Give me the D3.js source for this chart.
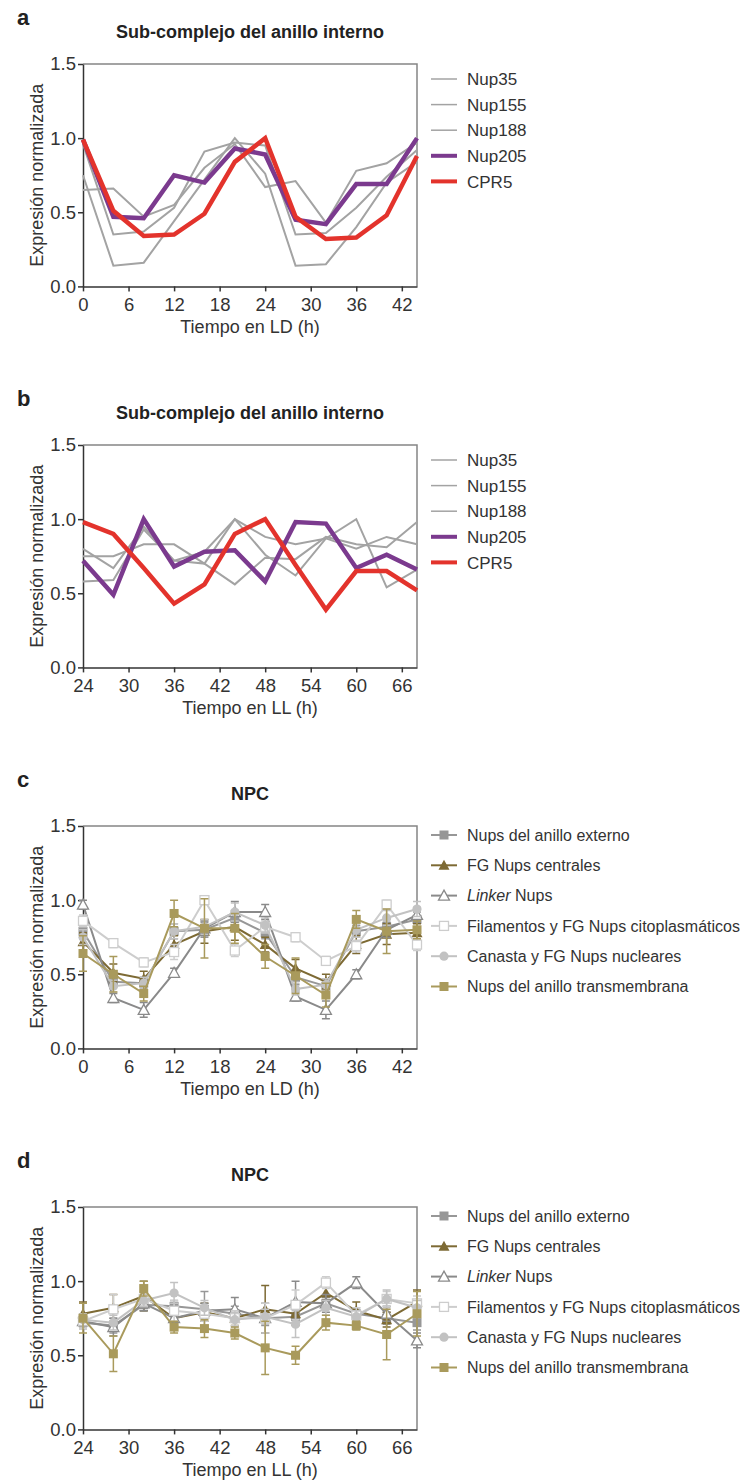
<!DOCTYPE html>
<html>
<head>
<meta charset="utf-8">
<script src="https://cdn.jsdelivr.net/npm/d3@7"></script>
<style>
  body { margin: 0; background: #fff; }
  svg text { font-family: "Liberation Sans", Arial, sans-serif; fill: #333; }
</style>
</head>
<body>
<svg id="chart" width="740" height="1483"></svg>
<script>
// time points
const timeLD = [0, 4, 8, 12, 16, 20, 24, 28, 32, 36, 40, 44];
const timeLL = [24, 28, 32, 36, 40, 44, 48, 52, 56, 60, 64, 68];
const ticksLD = [0, 6, 12, 18, 24, 30, 36, 42];
const ticksLL = [24, 30, 36, 42, 48, 54, 60, 66];
const yTicks = [0, 0.5, 1.0, 1.5];

// panel a - inner ring, LD
const innerNames = ['Nup35', 'Nup155', 'Nup188', 'Nup205', 'CPR5'];
const aNup35 = [0.65, 0.66, 0.47, 0.55, 0.80, 0.96, 0.67, 0.71, 0.43, 0.78, 0.83, 0.97];
const aNup155 = [0.75, 0.14, 0.16, 0.44, 0.72, 1.00, 0.76, 0.14, 0.15, 0.40, 0.70, 0.84];
const aNup188 = [0.96, 0.35, 0.37, 0.53, 0.91, 0.97, 0.95, 0.35, 0.36, 0.53, 0.74, 0.92];
const aNup205 = [0.99, 0.47, 0.46, 0.75, 0.70, 0.93, 0.89, 0.45, 0.42, 0.69, 0.69, 1.00];
const aCPR5 = [0.99, 0.51, 0.34, 0.35, 0.49, 0.84, 1.00, 0.47, 0.32, 0.33, 0.48, 0.88];

// panel b - inner ring, LL
const bNup35 = [0.80, 0.67, 0.95, 0.72, 0.70, 1.00, 0.88, 0.83, 0.87, 0.80, 0.88, 0.83];
const bNup155 = [0.75, 0.75, 0.83, 0.83, 0.70, 0.56, 0.74, 0.73, 0.88, 0.83, 0.81, 0.98];
const bNup188 = [0.58, 0.59, 0.93, 0.72, 0.78, 1.00, 0.76, 0.62, 0.87, 1.00, 0.54, 0.66];
const bNup205 = [0.72, 0.49, 1.00, 0.68, 0.78, 0.79, 0.58, 0.98, 0.97, 0.67, 0.76, 0.66];
const bCPR5 = [0.98, 0.90, 0.67, 0.43, 0.56, 0.90, 1.00, 0.69, 0.39, 0.65, 0.65, 0.52];

// panels c, d - NPC groups
const npcNames = ['Nups del anillo externo', 'FG Nups centrales', 'Linker Nups',
  'Filamentos y FG Nups citoplasmáticos', 'Canasta y FG Nups nucleares', 'Nups del anillo transmembrana'];

const cExterno = [0.79, 0.45, 0.44, 0.79, 0.80, 0.88, 0.78, 0.48, 0.42, 0.79, 0.82, 0.87];
const cCentrales = [0.72, 0.51, 0.47, 0.70, 0.79, 0.82, 0.70, 0.54, 0.45, 0.70, 0.77, 0.78];
const cLinker = [0.97, 0.34, 0.26, 0.51, 0.81, 0.92, 0.92, 0.35, 0.26, 0.50, 0.80, 0.90];
const cFilamentos = [0.86, 0.71, 0.58, 0.65, 1.00, 0.66, 0.82, 0.75, 0.59, 0.69, 0.97, 0.70];
const cCanasta = [0.75, 0.42, 0.44, 0.79, 0.82, 0.92, 0.83, 0.40, 0.43, 0.80, 0.88, 0.94];
const cTransmembrana = [0.64, 0.50, 0.37, 0.91, 0.81, 0.81, 0.62, 0.49, 0.36, 0.87, 0.79, 0.80];

const cExternoErr = [0.05, 0.04, 0.04, 0.05, 0.05, 0.05, 0.04, 0.05, 0.04, 0.04, 0.05, 0.05];
const cCentralesErr = [0.06, 0.06, 0.05, 0.06, 0.08, 0.09, 0.05, 0.06, 0.05, 0.06, 0.07, 0.06];
const cLinkerErr = [0.03, 0.03, 0.05, 0.03, 0.05, 0.07, 0.05, 0.03, 0.06, 0.03, 0.05, 0.05];
const cFilamentosErr = [0.04, 0.03, 0.03, 0.05, 0.03, 0.04, 0.04, 0.03, 0.03, 0.04, 0.03, 0.04];
const cCanastaErr = [0.05, 0.04, 0.04, 0.05, 0.05, 0.06, 0.05, 0.04, 0.04, 0.05, 0.05, 0.05];
const cTransmembranaErr = [0.12, 0.12, 0.05, 0.09, 0.20, 0.10, 0.08, 0.12, 0.08, 0.06, 0.15, 0.06];

const dExterno = [0.72, 0.70, 0.84, 0.83, 0.81, 0.78, 0.75, 0.76, 0.85, 0.78, 0.75, 0.72];
const dCentrales = [0.78, 0.82, 0.90, 0.75, 0.79, 0.75, 0.81, 0.78, 0.92, 0.80, 0.74, 0.86];
const dLinker = [0.73, 0.69, 0.85, 0.75, 0.80, 0.81, 0.75, 0.86, 0.85, 0.99, 0.78, 0.60];
const dFilamentos = [0.73, 0.81, 0.88, 0.80, 0.78, 0.75, 0.75, 0.84, 0.99, 0.77, 0.88, 0.85];
const dCanasta = [0.74, 0.72, 0.87, 0.92, 0.82, 0.74, 0.76, 0.71, 0.82, 0.76, 0.88, 0.82];
const dTransmembrana = [0.75, 0.51, 0.95, 0.69, 0.68, 0.65, 0.55, 0.50, 0.72, 0.70, 0.64, 0.78];

const dExternoErr = [0.04, 0.05, 0.04, 0.04, 0.12, 0.05, 0.05, 0.05, 0.04, 0.04, 0.04, 0.05];
const dCentralesErr = [0.08, 0.09, 0.10, 0.05, 0.06, 0.05, 0.16, 0.08, 0.05, 0.06, 0.05, 0.08];
const dLinkerErr = [0.05, 0.06, 0.05, 0.05, 0.05, 0.08, 0.10, 0.14, 0.06, 0.04, 0.05, 0.05];
const dFilamentosErr = [0.05, 0.10, 0.05, 0.07, 0.05, 0.05, 0.10, 0.10, 0.04, 0.05, 0.05, 0.05];
const dCanastaErr = [0.04, 0.05, 0.04, 0.07, 0.05, 0.05, 0.05, 0.09, 0.05, 0.04, 0.06, 0.05];
const dTransmembranaErr = [0.10, 0.12, 0.05, 0.04, 0.06, 0.04, 0.18, 0.06, 0.05, 0.03, 0.17, 0.15];

// styles
const innerColors = ['#a3a3a3', '#a3a3a3', '#a3a3a3', '#7b3a8e', '#e3332c'];
const innerWidths = [2, 2, 2, 4.5, 4.5];
const npcColors = ['#979797', '#7d6a34', '#8a8a8a', '#cdcdcd', '#c2c2c2', '#a99a5c'];
const npcShapes = ['square', 'triangle', 'triangle', 'square', 'circle', 'square'];
const npcOpen = [false, false, true, true, false, false];

const svg = d3.select('#chart');
const left = 83, right = 417, plotH = 222.4;

function drawFrame(top, letter, title, xDomain, xTicks, xLabel) {
  const x = d3.scaleLinear().domain(xDomain).range([left, right]);
  const y = d3.scaleLinear().domain([0, 1.5]).range([top + plotH, top]);
  const g = svg.append('g');

  g.append('text').attr('x', 17).attr('y', top - 39)
    .style('font-size', '22px').style('font-weight', 'bold').style('fill', '#222')
    .text(letter);
  g.append('text').attr('x', (left + right) / 2).attr('y', top - 26)
    .attr('text-anchor', 'middle')
    .style('font-size', '18px').style('font-weight', 'bold').style('fill', '#222')
    .text(title);

  // top and right frame lines
  g.append('path')
    .attr('d', `M${left},${top}H${right}V${top + plotH}`)
    .attr('fill', 'none').attr('stroke', '#858585').attr('stroke-width', 1.5);

  const yAxis = g.append('g').attr('transform', `translate(${left},0)`)
    .call(d3.axisLeft(y).tickValues(yTicks).tickFormat(d3.format('.1f')).tickSize(5).tickSizeOuter(0).tickPadding(2));
  const xAxis = g.append('g').attr('transform', `translate(0,${top + plotH})`)
    .call(d3.axisBottom(x).tickValues(xTicks).tickSize(5).tickSizeOuter(0).tickPadding(6));
  [yAxis, xAxis].forEach(ax => {
    ax.selectAll('path, line').attr('stroke', '#333').attr('stroke-width', 1.5);
    ax.selectAll('text').style('font-size', '18.5px').style('fill', '#333')
      .style('font-family', '"Liberation Sans", Arial, sans-serif');
  });

  g.append('text').attr('x', (left + right) / 2).attr('y', top + plotH + 47)
    .attr('text-anchor', 'middle').style('font-size', '18px')
    .text(xLabel);
  g.append('text')
    .attr('transform', `translate(43,${top + plotH / 2}) rotate(-90)`)
    .attr('text-anchor', 'middle').style('font-size', '18px')
    .text('Expresión normalizada');

  return { x, y, g };
}

function drawInner(top, letter, xDomain, xTicks, xLabel, times, series) {
  const { x, y, g } = drawFrame(top, letter, 'Sub-complejo del anillo interno', xDomain, xTicks, xLabel);
  const line = d3.line().x((d, i) => x(times[i])).y(d => y(d));
  series.forEach((s, k) => {
    g.append('path').datum(s).attr('d', line)
      .attr('fill', 'none').attr('stroke', innerColors[k])
      .attr('stroke-width', innerWidths[k]).attr('stroke-linejoin', 'miter');
  });
  // legend
  innerNames.forEach((name, k) => {
    const ly = top + 15 + k * 25.6;
    g.append('line').attr('x1', 431).attr('x2', 457).attr('y1', ly).attr('y2', ly)
      .attr('stroke', innerColors[k]).attr('stroke-width', innerWidths[k] - 0.5);
    g.append('text').attr('x', 467).attr('y', ly).attr('dy', '0.36em')
      .style('font-size', '17px').text(name);
  });
}

function drawMarker(g, shape, open, color, cx, cy) {
  const fill = open ? '#fff' : color;
  if (shape === 'square') {
    g.append('rect').attr('x', cx - 4.5).attr('y', cy - 4.5).attr('width', 9).attr('height', 9)
      .attr('fill', fill).attr('stroke', color).attr('stroke-width', open ? 1.3 : 0);
  } else if (shape === 'circle') {
    g.append('circle').attr('cx', cx).attr('cy', cy).attr('r', 4.6).attr('fill', fill);
  } else {
    const p = `M${cx},${cy - 5.5}L${cx + 5.5},${cy + 4.5}L${cx - 5.5},${cy + 4.5}Z`;
    g.append('path').attr('d', p).attr('fill', fill)
      .attr('stroke', color).attr('stroke-width', open ? 1.3 : 0);
  }
}

function drawNPC(top, letter, xDomain, xTicks, xLabel, times, series, errors) {
  const { x, y, g } = drawFrame(top, letter, 'NPC', xDomain, xTicks, xLabel);
  const line = d3.line().x((d, i) => x(times[i])).y(d => y(d));
  series.forEach((s, k) => {
    const color = npcColors[k];
    const sg = g.append('g');
    // error bars
    s.forEach((v, i) => {
      const e = errors[k][i];
      const cx = x(times[i]);
      sg.append('path')
        .attr('d', `M${cx},${y(v - e)}V${y(v + e)}M${cx - 4},${y(v - e)}H${cx + 4}M${cx - 4},${y(v + e)}H${cx + 4}`)
        .attr('stroke', color).attr('stroke-width', 1.5).attr('fill', 'none');
    });
    sg.append('path').datum(s).attr('d', line)
      .attr('fill', 'none').attr('stroke', color).attr('stroke-width', 2);
    s.forEach((v, i) => drawMarker(sg, npcShapes[k], npcOpen[k], color, x(times[i]), y(v)));
  });
  // legend
  npcNames.forEach((name, k) => {
    const ly = top + 9 + k * 30.3;
    g.append('line').attr('x1', 431).attr('x2', 457).attr('y1', ly).attr('y2', ly)
      .attr('stroke', npcColors[k]).attr('stroke-width', 2);
    drawMarker(g, npcShapes[k], npcOpen[k], npcColors[k], 444, ly);
    const t = g.append('text').attr('x', 467).attr('y', ly).attr('dy', '0.36em')
      .style('font-size', '16px');
    if (name.startsWith('Linker')) {
      t.append('tspan').style('font-style', 'italic').text('Linker');
      t.append('tspan').text(' Nups');
    } else {
      t.text(name);
    }
  });
}

drawInner(64, 'a', [0, 44], ticksLD, 'Tiempo en LD (h)', timeLD,
  [aNup35, aNup155, aNup188, aNup205, aCPR5]);
drawInner(445, 'b', [24, 68], ticksLL, 'Tiempo en LL (h)', timeLL,
  [bNup35, bNup155, bNup188, bNup205, bCPR5]);
drawNPC(826, 'c', [0, 44], ticksLD, 'Tiempo en LD (h)', timeLD,
  [cExterno, cCentrales, cLinker, cFilamentos, cCanasta, cTransmembrana],
  [cExternoErr, cCentralesErr, cLinkerErr, cFilamentosErr, cCanastaErr, cTransmembranaErr]);
drawNPC(1207, 'd', [24, 68], ticksLL, 'Tiempo en LL (h)', timeLL,
  [dExterno, dCentrales, dLinker, dFilamentos, dCanasta, dTransmembrana],
  [dExternoErr, dCentralesErr, dLinkerErr, dFilamentosErr, dCanastaErr, dTransmembranaErr]);
</script>
</body>
</html>
